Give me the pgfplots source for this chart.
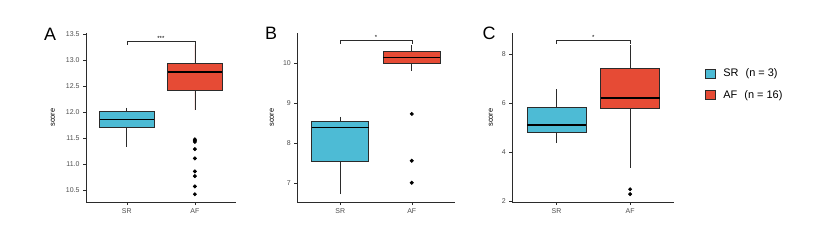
\documentclass[border=0pt]{standalone}
\usepackage{pgfplots}
\pgfplotsset{compat=1.18}
\usepgfplotslibrary{statistics}
\usepackage{fontspec}
\setmainfont{Liberation Sans}
\definecolor{srblue}{HTML}{4DBBD5}
\definecolor{afred}{HTML}{E64B35}
\definecolor{tickgray}{HTML}{4D4D4D}
\definecolor{linegray}{HTML}{2B2B2B}
\pgfplotsset{
  panel/.style={
    scale only axis, height=169bp,
    axis x line*=bottom, axis y line*=left,
    axis line style={linegray, line width=0.6bp},
    every tick/.style={linegray, line width=0.5bp},
    tick align=outside, major tick length=3bp,
    xmin=0.4, xmax=2.6, xtick={1,2}, xticklabels={SR,AF},
    tick label style={font=\fontsize{7}{8}\selectfont, text=tickgray},
    /pgf/number format/assume math mode=true,
    ylabel={score},
    ylabel style={font=\fontsize{7.5}{9}\selectfont, anchor=center},
    boxplot/draw direction=y,
    boxplot/box extend=0.8, boxplot/whisker extend=0,
    boxplot/every median/.style={line width=1.6bp, black},
    clip=false,
  },
  sr/.style={draw=linegray, fill=srblue, line width=0.7bp, solid, mark=none},
  af/.style={draw=linegray, fill=afred, line width=0.7bp, solid, mark=*, mark size=1.6bp, mark options={fill=black, draw=black, solid}},
  brk/.style={linegray, line width=0.5bp, mark=none, solid},
}
\begin{document}
\begin{tikzpicture}
\path[use as bounding box] (0bp,0bp) rectangle (828bp,242bp);
% Panel A
\begin{axis}[panel, at={(86bp,40bp)}, anchor=south west, width=149.7bp,
  ymin=10.27, ymax=13.53, ytick={10.5,11,11.5,12,12.5,13,13.5},
  yticklabel style={/pgf/number format/.cd, fixed, fixed zerofill, precision=1},
  ylabel style={at={(axis description cs:-0.221,0.5)}}]
\addplot[sr, boxplot prepared={draw position=1, lower whisker=11.34, lower quartile=11.71, median=11.86, upper quartile=12.02, upper whisker=12.09}] coordinates {};
\addplot[af, boxplot prepared={draw position=2, lower whisker=12.04, lower quartile=12.43, median=12.78, upper quartile=12.94, upper whisker=13.30}] coordinates {(0,11.48)(0,11.46)(0,11.43)(0,11.29)(0,11.11)(0,10.86)(0,10.77)(0,10.57)(0,10.42)};
\addplot[brk] coordinates {(1,13.30)(1,13.38)(2,13.38)(2,13.30)};
\node[font=\fontsize{6}{6}\selectfont, anchor=south, inner sep=0.5bp] at (axis cs:1.5,13.38) {***};
\end{axis}
% Panel B
\begin{axis}[panel, at={(297.3bp,40bp)}, anchor=south west, width=157.4bp,
  ymin=6.53, ymax=10.75, ytick={7,8,9,10},
  ylabel style={at={(axis description cs:-0.162,0.5)}}]
\addplot[sr, boxplot prepared={draw position=1, lower whisker=6.72, lower quartile=7.55, median=8.39, upper quartile=8.54, upper whisker=8.66}] coordinates {};
\addplot[af, boxplot prepared={draw position=2, lower whisker=9.81, lower quartile=9.98, median=10.14, upper quartile=10.29, upper whisker=10.45}] coordinates {(0,8.73)(0,7.56)(0,7.01)};
\addplot[brk] coordinates {(1,10.47)(1,10.56)(2,10.56)(2,10.47)};
\node[font=\fontsize{6}{6}\selectfont, anchor=south, inner sep=0.5bp] at (axis cs:1.5,10.56) {*};
\end{axis}
% Panel C
\begin{axis}[panel, at={(512.3bp,40bp)}, anchor=south west, width=162bp,
  ymin=1.98, ymax=8.87, ytick={2,4,6,8},
  ylabel style={at={(axis description cs:-0.132,0.5)}},
  legend style={at={(1.187,0.80)}, anchor=north west, draw=none, fill=none,
    font=\fontsize{11}{13}\selectfont, row sep=8bp, inner sep=0pt,
    /tikz/every odd column/.append style={column sep=6bp}},
  legend cell align=left]
\addplot[sr, forget plot, boxplot prepared={draw position=1, lower whisker=4.38, lower quartile=4.83, median=5.13, upper quartile=5.85, upper whisker=6.58}] coordinates {};
\addplot[af, forget plot, boxplot prepared={draw position=2, lower whisker=3.37, lower quartile=5.78, median=6.22, upper quartile=7.44, upper whisker=8.38}] coordinates {(0,2.50)(0,2.30)};
\addplot[brk, forget plot] coordinates {(1,8.42)(1,8.56)(2,8.56)(2,8.42)};
\node[font=\fontsize{6}{6}\selectfont, anchor=south, inner sep=0.5bp] at (axis cs:1.5,8.56) {*};
\addlegendimage{legend image code/.code={\draw[draw=linegray, fill=srblue, line width=0.6bp] (0bp,-4.5bp) rectangle (10bp,4.5bp);}}
\addlegendentry{SR\hspace{7bp}(n = 3)}
\addlegendimage{legend image code/.code={\draw[draw=linegray, fill=afred, line width=0.6bp] (0bp,-4.5bp) rectangle (10bp,4.5bp);}}
\addlegendentry{AF\hspace{7bp}(n = 16)}
\end{axis}
\node[font=\fontsize{18}{18}\selectfont] at (50bp,208bp) {A};
\node[font=\fontsize{18}{18}\selectfont] at (271bp,209bp) {B};
\node[font=\fontsize{18}{18}\selectfont] at (489bp,209bp) {C};
\end{tikzpicture}
\end{document}
